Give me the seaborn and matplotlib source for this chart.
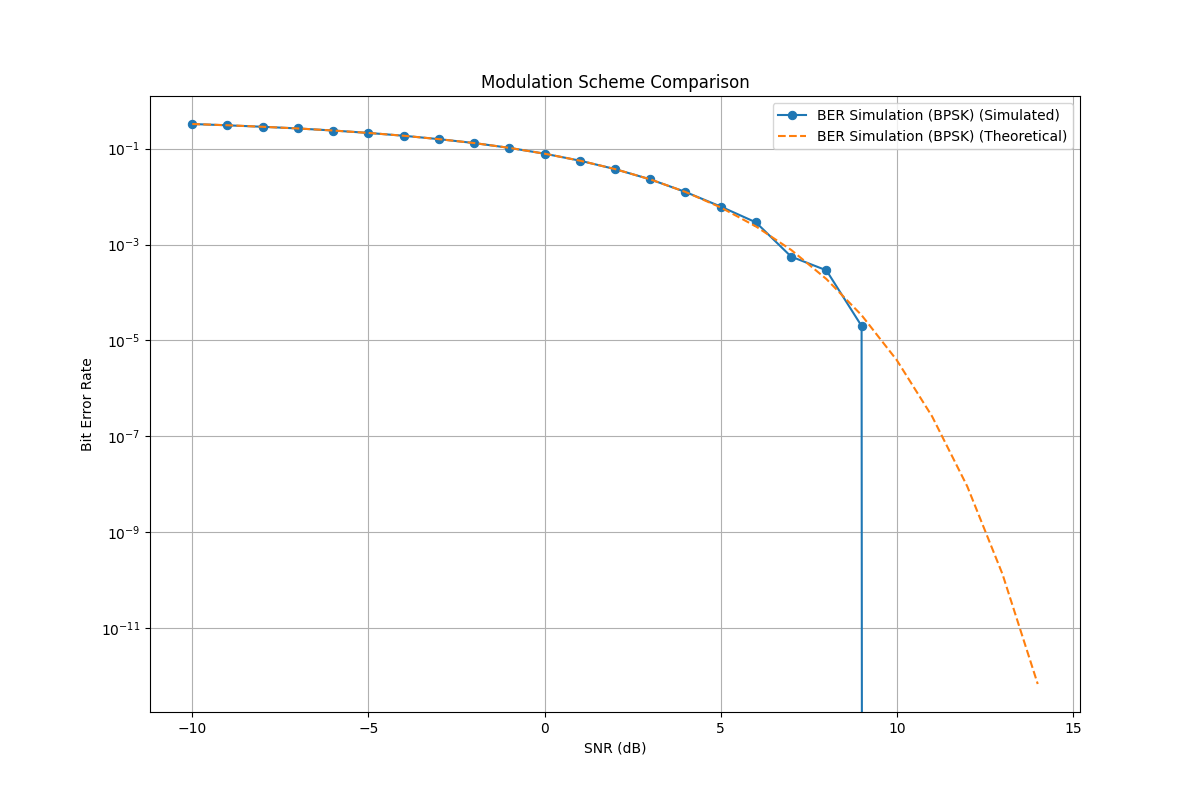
import matplotlib
matplotlib.use("Agg")
import matplotlib.pyplot as plt
import seaborn as sns
import pandas as pd

# values
snr_db = [-10, -9, -8, -7, -6, -5, -4, -3, -2, -1, 0, 1, 2, 3, 4,
          5, 6, 7, 8, 9, 10, 11, 12, 13, 14]
ber_simulated = [0.327, 0.307, 0.286, 0.264, 0.239, 0.213, 0.186, 0.158,
                 0.131, 0.104, 0.0786, 0.0563, 0.0375, 0.0229, 0.0125,
                 0.0062, 0.0029, 5.6e-4, 2.9e-4, 2.0e-5, 0, 0, 0, 0, 0]
ber_theoretical = [0.327, 0.308, 0.286, 0.264, 0.239, 0.213, 0.186, 0.158,
                   0.131, 0.104, 0.0786, 0.0563, 0.0375, 0.0229, 0.0125,
                   0.00595, 0.00239, 7.73e-4, 1.91e-4, 3.36e-5, 3.87e-6,
                   2.61e-7, 9.0e-9, 1.33e-10, 6.8e-13]

df = pd.DataFrame({"snr": snr_db, "sim": ber_simulated, "theory": ber_theoretical})

fig, ax = plt.subplots(figsize=(12, 8), dpi=100)

sns.lineplot(data=df, x="snr", y="sim", ax=ax, marker="o", color="C0",
             markeredgecolor="C0", markersize=6,
             label="BER Simulation (BPSK) (Simulated)")
sns.lineplot(data=df, x="snr", y="theory", ax=ax, color="C1", linestyle="--",
             label="BER Simulation (BPSK) (Theoretical)")

ax.set_yscale("log")
ax.set_xlabel("SNR (dB)")
ax.set_ylabel("Bit Error Rate")
ax.set_title("Modulation Scheme Comparison")
ax.grid(True)
ax.legend(loc="upper right")

plt.savefig("out.png")
